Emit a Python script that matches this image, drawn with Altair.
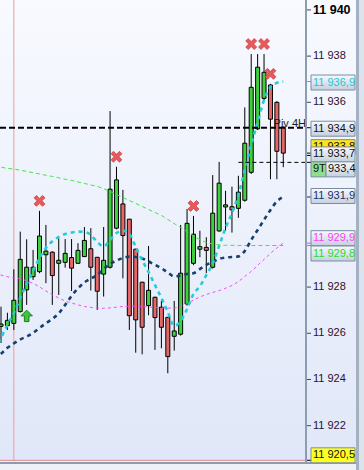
import altair as alt
import pandas as pd

# ---------------- data ----------------
opens = [11926.30, 11926.33, 11926.43, 11926.94, 11927.88, 11928.45, 11928.67, 11929.40, 11929.51, 11929.03,
         11929.07, 11929.28, 11929.03, 11929.32, 11929.66, 11929.29, 11928.56, 11928.86, 11930.55, 11931.60,
         11930.94, 11929.64, 11928.21, 11927.20, 11927.56, 11927.13, 11926.69, 11925.87, 11925.96, 11927.27,
         11929.03, 11929.64, 11929.72, 11928.86, 11930.43, 11931.47, 11931.48, 11931.41, 11931.76, 11932.97,
         11934.85, 11936.17, 11936.75, 11936.00, 11934.92]
highs = [11927.15, 11926.89, 11928.77, 11930.40, 11930.07, 11929.61, 11931.30, 11930.69, 11929.55, 11930.11,
         11930.08, 11930.08, 11929.90, 11930.60, 11930.55, 11929.29, 11930.60, 11935.62, 11933.21, 11932.21,
         11930.95, 11929.66, 11928.23, 11929.78, 11927.58, 11927.41, 11926.70, 11927.40, 11930.69, 11931.38,
         11931.08, 11930.44, 11930.16, 11932.85, 11933.42, 11932.17, 11932.35, 11932.82, 11935.78, 11938.09,
         11938.09, 11938.09, 11936.80, 11936.05, 11934.95]
lows = [11925.58, 11926.14, 11926.14, 11926.90, 11927.23, 11928.31, 11928.60, 11928.17, 11927.23, 11927.66,
        11928.84, 11927.83, 11929.00, 11929.30, 11927.85, 11927.01, 11927.59, 11928.80, 11930.50, 11928.38,
        11926.14, 11925.16, 11925.09, 11926.78, 11925.28, 11925.35, 11924.27, 11925.25, 11925.90, 11927.20,
        11928.95, 11929.29, 11928.60, 11928.80, 11930.40, 11930.42, 11930.36, 11931.00, 11931.70, 11932.90,
        11934.80, 11936.10, 11932.67, 11932.67, 11933.19]
closes = [11926.40, 11926.56, 11927.43, 11929.20, 11928.86, 11928.86, 11930.21, 11929.56, 11928.50, 11929.16,
          11929.46, 11928.82, 11929.59, 11930.02, 11928.86, 11927.82, 11929.16, 11932.24, 11932.64, 11930.23,
          11926.76, 11926.58, 11926.26, 11927.86, 11926.68, 11926.26, 11924.99, 11926.10, 11928.60, 11930.76,
          11930.29, 11929.75, 11929.59, 11931.20, 11932.50, 11931.56, 11931.34, 11932.11, 11934.23, 11936.65,
          11937.52, 11937.30, 11935.27, 11933.88, 11933.80]

ma_index = list(range(-1, 45))
ma_green = [11933.24, 11933.19, 11933.14, 11933.11, 11933.06, 11933.01, 11932.95, 11932.90, 11932.84, 11932.79,
            11932.73, 11932.67, 11932.62, 11932.55, 11932.49, 11932.42, 11932.36, 11932.26, 11932.14, 11932.01,
            11931.88, 11931.75, 11931.62, 11931.49, 11931.36, 11931.23, 11931.10, 11930.93, 11930.75, 11930.58,
            11930.40, 11930.21, 11930.06, 11929.93, 11929.87, 11929.83, 11929.81, 11929.81, 11929.80, 11929.80,
            11929.80, 11929.80, 11929.80, 11929.80, 11929.80, 11929.80]
ma_magenta = [11928.57, 11928.52, 11928.45, 11928.40, 11928.36, 11928.27, 11928.16, 11928.01, 11927.83, 11927.67,
              11927.53, 11927.40, 11927.31, 11927.23, 11927.16, 11927.12, 11927.10, 11927.08, 11927.10, 11927.13,
              11927.16, 11927.17, 11927.17, 11927.16, 11927.14, 11927.12, 11927.10, 11927.09, 11927.10, 11927.16,
              11927.29, 11927.44, 11927.57, 11927.68, 11927.77, 11927.85, 11927.95, 11928.07, 11928.24, 11928.46,
              11928.68, 11928.94, 11929.20, 11929.46, 11929.69, 11929.90]
ma_cyan = [11925.28, 11925.80, 11926.36, 11926.88, 11927.53, 11928.14, 11928.70, 11929.26, 11929.69, 11929.98,
           11930.17, 11930.30, 11930.36, 11930.40, 11930.39, 11930.26, 11929.95, 11929.76, 11930.04, 11930.34,
           11930.44, 11930.30, 11929.74, 11929.17, 11928.65, 11928.09, 11927.53, 11926.92, 11926.32, 11926.53,
           11927.05, 11927.70, 11928.03, 11928.52, 11929.02, 11929.78, 11930.56, 11931.21, 11931.99, 11933.07,
           11934.15, 11935.15, 11936.10, 11936.66, 11936.84, 11936.90]
ma_navy = [11924.89, 11925.11, 11925.37, 11925.56, 11925.73, 11925.86, 11926.01, 11926.23, 11926.43, 11926.62,
           11926.86, 11927.23, 11927.62, 11927.94, 11928.20, 11928.37, 11928.52, 11928.78, 11929.00, 11929.15,
           11929.26, 11929.32, 11929.30, 11929.24, 11929.11, 11928.96, 11928.82, 11928.63, 11928.46, 11928.50,
           11928.57, 11928.60, 11928.78, 11928.96, 11929.09, 11929.22, 11929.28, 11929.30, 11929.33, 11929.56,
           11930.04, 11930.47, 11930.91, 11931.34, 11931.71, 11931.91]

signal_idx = [6, 18, 30, 39, 41, 42]      # red crosses above these candles
arrow_idx = [4]                           # green up arrow below this candle
axis_ticks = [11922, 11924, 11926, 11928, 11936, 11938, 11940]
axis_bold = [11940]
pivot_4h = 11934.9
pivot_label = "Piv 4H"
level_9t = 11933.4
level_9t_start = 37
level_low = 11920.5
session_idx = 2

box_levels = [11936.9, 11934.9, 11933.8, 11933.7, 11933.4, 11931.9, 11929.9, 11929.8, 11920.5]

# ---------------- styles ----------------
FONT = "Liberation Sans"
GREEN = "#3fd03f"
RED = "#e46767"
W, H = 306, 461
xs = alt.Scale(domain=[-0.156, 47.54], nice=False, zero=False, padding=0)
ys = alt.Scale(domain=[11920.47, 11940.43], nice=False, zero=False, padding=0)

box_text_colors = ["#1fc6d6", "#111111", "#111111", "#111111", "#111111", "#1b2e6b", "#ff3cff", "#25dd25", "#111111"]
box_fills = ["grad", "grad", "#ffe21a", "grad", "grad", "grad", "grad", "grad", "#ffff22"]
box_shifts = [1, 1, -6, -1, 7, -1, -5, 8, -5]

idx = list(range(len(opens)))
candles = pd.DataFrame({"i": idx, "o": opens, "h": highs, "l": lows, "c": closes})
one = pd.DataFrame({"k": [0]})


def X(field="i"):
    return alt.X(field, type="quantitative", scale=xs, axis=None)


def Yf(field):
    return alt.Y(field, type="quantitative", scale=ys, axis=None)


def Yd(v):
    return alt.Y(datum=v, type="quantitative", scale=ys, axis=None)


def fmt(v):
    return f"{v:,.1f}".replace(",", " ").replace(".", ",")


def grad(c0, c1):
    return alt.Gradient(gradient="linear",
                        stops=[alt.GradientStop(color=c0, offset=0), alt.GradientStop(color=c1, offset=1)],
                        x1=0, x2=0, y1=0, y2=1)


layers = []

# background
layers.append(alt.Chart(one).mark_rect(fill=grad("#f8faff", "#e0e7f8")).encode(
    x=alt.value(0), x2=alt.value(356), y=alt.value(0), y2=alt.value(H)))
layers.append(alt.Chart(one).mark_rect(fill="#a3b1c2").encode(
    x=alt.value(356), x2=alt.value(359), y=alt.value(0), y2=alt.value(470)))
layers.append(alt.Chart(one).mark_rect(fill="#dde3ec").encode(
    x=alt.value(359), x2=alt.value(364), y=alt.value(0), y2=alt.value(470)))

# session line and low level line
layers.append(alt.Chart(one).mark_rule(color="#f29a9a", strokeWidth=1).encode(
    x=alt.X(datum=session_idx, type="quantitative", scale=xs, axis=None), y=alt.value(0), y2=alt.value(H)))
layers.append(alt.Chart(one).mark_rule(color="#f08585", strokeWidth=1).encode(
    x=alt.value(0), x2=alt.value(W), y=Yd(level_low)))

# candles
layers.append(alt.Chart(candles).mark_rule(color="#000000", strokeWidth=1).encode(
    x=X(), y=Yf("l"), y2="h"))
layers.append(alt.Chart(candles).mark_bar(size=4, stroke="#000000", strokeWidth=1).encode(
    x=X(), y=Yf("o"), y2="c",
    color=alt.condition("datum.c >= datum.o", alt.value(GREEN), alt.value(RED))))

# moving averages
for vals, col, sw, dash in [
    (ma_green, "#3ee83e", 1, [4, 3]),
    (ma_magenta, "#f050f0", 1, [3, 3]),
    (ma_navy, "#17406f", 2.6, [4, 4]),
    (ma_cyan, "#22ccd8", 2.6, [4, 4]),
]:
    df = pd.DataFrame({"i": ma_index, "v": vals})
    layers.append(alt.Chart(df).mark_line(color=col, strokeWidth=sw, strokeDash=dash, clip=True,
                                          interpolate="monotone").encode(x=X(), y=Yf("v")))

# levels
layers.append(alt.Chart(one).mark_rule(color="#000000", strokeWidth=2, strokeDash=[6, 3]).encode(
    x=alt.value(0), x2=alt.value(W), y=Yd(pivot_4h)))
layers.append(alt.Chart(one).mark_rule(color="#000000", strokeWidth=1, strokeDash=[4, 3]).encode(
    x=alt.X(datum=level_9t_start, type="quantitative", scale=xs, axis=None), x2=alt.value(W), y=Yd(level_9t)))
layers.append(alt.Chart(one).mark_text(text=pivot_label, align="right", baseline="alphabetic", dy=-1,
                                       font=FONT, fontSize=11, color="#1a1a1a").encode(
    x=alt.value(W), y=Yd(pivot_4h)))

# signals
X_PATH = "M-1,-0.55L-0.55,-1L0,-0.45L0.55,-1L1,-0.55L0.45,0L1,0.55L0.55,1L0,0.45L-0.55,1L-1,0.55L-0.45,0Z"
ARROW = "M0,-1L1,0L0.4,0L0.4,1L-0.4,1L-0.4,0L-1,0Z"
sig = pd.DataFrame({"i": signal_idx, "h": [highs[k] for k in signal_idx]})
layers.append(alt.Chart(sig).mark_point(shape=X_PATH, filled=True, size=120, fill="#e85a5a", stroke="#c83a3a",
                                        strokeWidth=0.7, opacity=1, yOffset=-10).encode(x=X(), y=Yf("h")))
arr = pd.DataFrame({"i": arrow_idx, "l": [lows[k] for k in arrow_idx]})
layers.append(alt.Chart(arr).mark_point(shape=ARROW, filled=True, size=130, fill="#3cc83c", stroke="#1d7d1d",
                                        strokeWidth=1, opacity=1, yOffset=11).encode(x=X(), y=Yf("l")))

# borders
layers.append(alt.Chart(one).mark_rule(color="#8d9db0", strokeWidth=2).encode(
    x=alt.value(W), y=alt.value(0), y2=alt.value(H + 2)))
layers.append(alt.Chart(one).mark_rule(color="#8d9db0", strokeWidth=2).encode(
    x=alt.value(0), x2=alt.value(356), y=alt.value(H + 2)))

# price axis: ticks and labels
ticks = pd.DataFrame({"v": axis_ticks,
                      "t": [f"{t:,d}".replace(",", " ") for t in axis_ticks],
                      "b": [t in axis_bold for t in axis_ticks]})
layers.append(alt.Chart(ticks).mark_rule(color="#3a4660", strokeWidth=1).encode(
    x=alt.value(W + 1), x2=alt.value(W + 5), y=Yf("v")))
layers.append(alt.Chart(ticks).transform_filter("!datum.b").mark_text(
    align="left", baseline="middle", font=FONT, fontSize=11, color="#2d0f2d").encode(
    x=alt.value(313), y=Yf("v"), text="t:N"))
layers.append(alt.Chart(ticks).transform_filter("datum.b").mark_text(
    align="left", baseline="middle", font=FONT, fontSize=12.5, fontWeight="bold", color="#000000").encode(
    x=alt.value(313), y=Yf("v"), text="t:N"))

# price boxes on the axis
BOX = grad("#f7f9fc", "#c5d0de")
for v, tc, fill, sh in zip(box_levels, box_text_colors, box_fills, box_shifts):
    fill_val = BOX if fill == "grad" else fill
    layers.append(alt.Chart(one).mark_rule(color=tc if tc != "#111111" else "#000000", strokeWidth=1).encode(
        x=alt.value(W + 1), x2=alt.value(W + 5), y=Yd(v)))
    if v == level_9t:
        layers.append(alt.Chart(one).mark_rect(fill="#8fdf8f", stroke="#7b8da3", strokeWidth=1,
                                               yOffset=sh - 7.5, y2Offset=sh + 7.5).encode(
            x=alt.value(311), x2=alt.value(326), y=Yd(v), y2=alt.Y2(datum=v)))
        layers.append(alt.Chart(one).mark_rect(fill=fill_val, stroke="#7b8da3", strokeWidth=1,
                                               yOffset=sh - 7.5, y2Offset=sh + 7.5).encode(
            x=alt.value(326), x2=alt.value(355), y=Yd(v), y2=alt.Y2(datum=v)))
        layers.append(alt.Chart(one).mark_text(text="9T", align="left", baseline="middle", dy=sh,
                                               font=FONT, fontSize=11, color="#111111").encode(
            x=alt.value(313), y=Yd(v)))
        layers.append(alt.Chart(one).mark_text(text=fmt(v)[3:], align="left", baseline="middle", dy=sh,
                                               font=FONT, fontSize=11, color=tc).encode(
            x=alt.value(328), y=Yd(v)))
    else:
        layers.append(alt.Chart(one).mark_rect(fill=fill_val, stroke="#7b8da3", strokeWidth=1,
                                               yOffset=sh - 7.5, y2Offset=sh + 7.5).encode(
            x=alt.value(311), x2=alt.value(355), y=Yd(v), y2=alt.Y2(datum=v)))
        layers.append(alt.Chart(one).mark_text(text=fmt(v), align="left", baseline="middle", dy=sh,
                                               font=FONT, fontSize=11, color=tc).encode(
            x=alt.value(313), y=Yd(v)))

chart = alt.layer(*layers).properties(
    width=W, height=H,
    padding={"left": 0, "top": 0, "right": 58, "bottom": 9},
    autosize=alt.AutoSizeParams(type="none"),
    background="#eef2f8",
).configure_view(strokeWidth=0)

chart.save("out.html", embed_options={"renderer": "svg", "actions": False})
